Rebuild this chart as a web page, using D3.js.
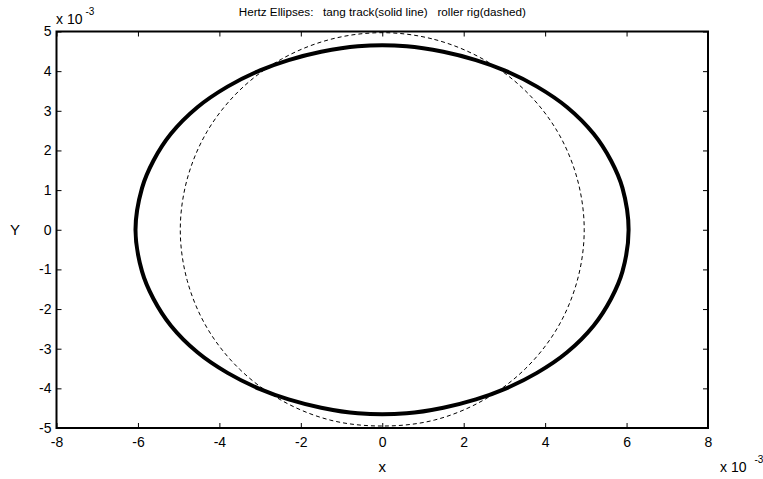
<!DOCTYPE html>
<html>
<head>
<meta charset="utf-8">
<script src="https://cdn.jsdelivr.net/npm/d3@7"></script>
<style>
  body { margin: 0; background: #fff; }
  svg text { font-family: "Liberation Sans", Arial, sans-serif; fill: #000; }
</style>
</head>
<body>
<div id="chart"></div>
<script>
// tang track contact patch (solid), x and y in units of 1e-3
const solidX = [0.6, 1.5, 2.3, 3.0, 3.8, 4.54, 5.19, 5.62, 5.9, 6.05,
                5.9, 5.62, 5.19, 4.54, 3.8, 3.0, 2.3, 1.5, 0.6,
                -0.6, -1.5, -2.3, -3.0, -3.8, -4.54, -5.19, -5.62, -5.9, -6.06,
                -5.9, -5.62, -5.19, -4.54, -3.8, -3.0, -2.3, -1.5, -0.6];
const solidY = [4.63, 4.49, 4.28, 4.02, 3.61, 3.09, 2.42, 1.74, 1.05, 0,
                -1.05, -1.74, -2.42, -3.09, -3.61, -4.02, -4.28, -4.49, -4.63,
                -4.63, -4.49, -4.28, -4.02, -3.61, -3.09, -2.42, -1.74, -1.05, 0,
                1.05, 1.74, 2.42, 3.09, 3.61, 4.02, 4.28, 4.49, 4.63];

// roller rig contact patch (dashed)
const dashX = [0, 1.28, 2.48, 3.51, 4.3, 4.79, 4.96, 4.79, 4.3, 3.51, 2.48, 1.28,
               0, -1.28, -2.48, -3.51, -4.3, -4.79, -4.96, -4.79, -4.3, -3.51, -2.48, -1.28];
const dashY = [4.97, 4.8, 4.3, 3.51, 2.48, 1.28, 0, -1.28, -2.48, -3.51, -4.3, -4.8,
               -4.95, -4.8, -4.3, -3.51, -2.48, -1.28, 0, 1.28, 2.48, 3.51, 4.3, 4.8];

const xTicks = [-8, -6, -4, -2, 0, 2, 4, 6, 8];
const yTicks = [-5, -4, -3, -2, -1, 0, 1, 2, 3, 4, 5];

const width = 763, height = 479;
const margin = {top: 31.5, right: 55, bottom: 51, left: 56.5};

const svg = d3.select("#chart").append("svg")
    .attr("width", width)
    .attr("height", height);

const x = d3.scaleLinear().domain([-8, 8]).range([margin.left, width - margin.right]);
const y = d3.scaleLinear().domain([-5, 5]).range([height - margin.bottom, margin.top]);

const tickLen = 5;
const plain = d => String(d); // hyphen minus, like the original

// ticks inside the box on all four sides
const xAxisB = d3.axisBottom(x).tickValues(xTicks).tickSize(-tickLen).tickPadding(9).tickFormat(plain);
const xAxisT = d3.axisTop(x).tickValues(xTicks).tickSize(-tickLen).tickFormat("");
const yAxisL = d3.axisLeft(y).tickValues(yTicks).tickSize(-tickLen).tickPadding(5).tickFormat(plain);
const yAxisR = d3.axisRight(y).tickValues(yTicks).tickSize(-tickLen).tickFormat("");

function styleAxis(g) {
  g.select(".domain").remove();
  g.selectAll(".tick line").attr("stroke", "#000").attr("stroke-width", 1);
  g.selectAll(".tick text").style("font-size", "14px");
}

svg.append("g").attr("transform", `translate(0,${y(-5)})`).call(xAxisB).call(styleAxis);
svg.append("g").attr("transform", `translate(0,${y(5)})`).call(xAxisT).call(styleAxis);
svg.append("g").attr("transform", `translate(${x(-8)},0)`).call(yAxisL).call(styleAxis);
svg.append("g").attr("transform", `translate(${x(8)},0)`).call(yAxisR).call(styleAxis);

// box
svg.append("rect")
    .attr("x", x(-8)).attr("y", y(5))
    .attr("width", x(8) - x(-8)).attr("height", y(-5) - y(5))
    .attr("fill", "none").attr("stroke", "#000").attr("stroke-width", 2);

const solid = solidX.map((v, i) => [v, solidY[i]]);
const dashed = dashX.map((v, i) => [v, dashY[i]]);

svg.append("path")
    .datum(dashed)
    .attr("fill", "none")
    .attr("stroke", "#000")
    .attr("stroke-width", 1)
    .attr("stroke-dasharray", "4,3")
    .attr("d", d3.line().x(d => x(d[0])).y(d => y(d[1])).curve(d3.curveCatmullRomClosed));

svg.append("path")
    .datum(solid)
    .attr("fill", "none")
    .attr("stroke", "#000")
    .attr("stroke-width", 4)
    .attr("stroke-linejoin", "round")
    .attr("d", d3.line().x(d => x(d[0])).y(d => y(d[1])).curve(d3.curveCatmullRomClosed.alpha(0.5)));

// title and labels
svg.append("text")
    .attr("x", x(0)).attr("y", 16)
    .attr("text-anchor", "middle")
    .style("font-size", "11.7px")
    .attr("xml:space", "preserve")
    .text("Hertz Ellipses:   tang track(solid line)   roller rig(dashed)");

svg.append("text")
    .attr("x", x(0)).attr("y", 472)
    .attr("text-anchor", "middle")
    .style("font-size", "15px")
    .text("x");

svg.append("text")
    .attr("x", 10).attr("y", 235)
    .style("font-size", "15px")
    .text("Y");

// exponent labels
function expLabel(px, py, gap) {
  const t = svg.append("text").attr("x", px).attr("y", py).style("font-size", "14px");
  t.append("tspan").text("x 10");
  t.append("tspan").attr("dx", gap).attr("dy", -9).style("font-size", "10px").text("-3");
}
expLabel(56, 24, 3);
expLabel(720, 472, 8);
</script>
</body>
</html>
